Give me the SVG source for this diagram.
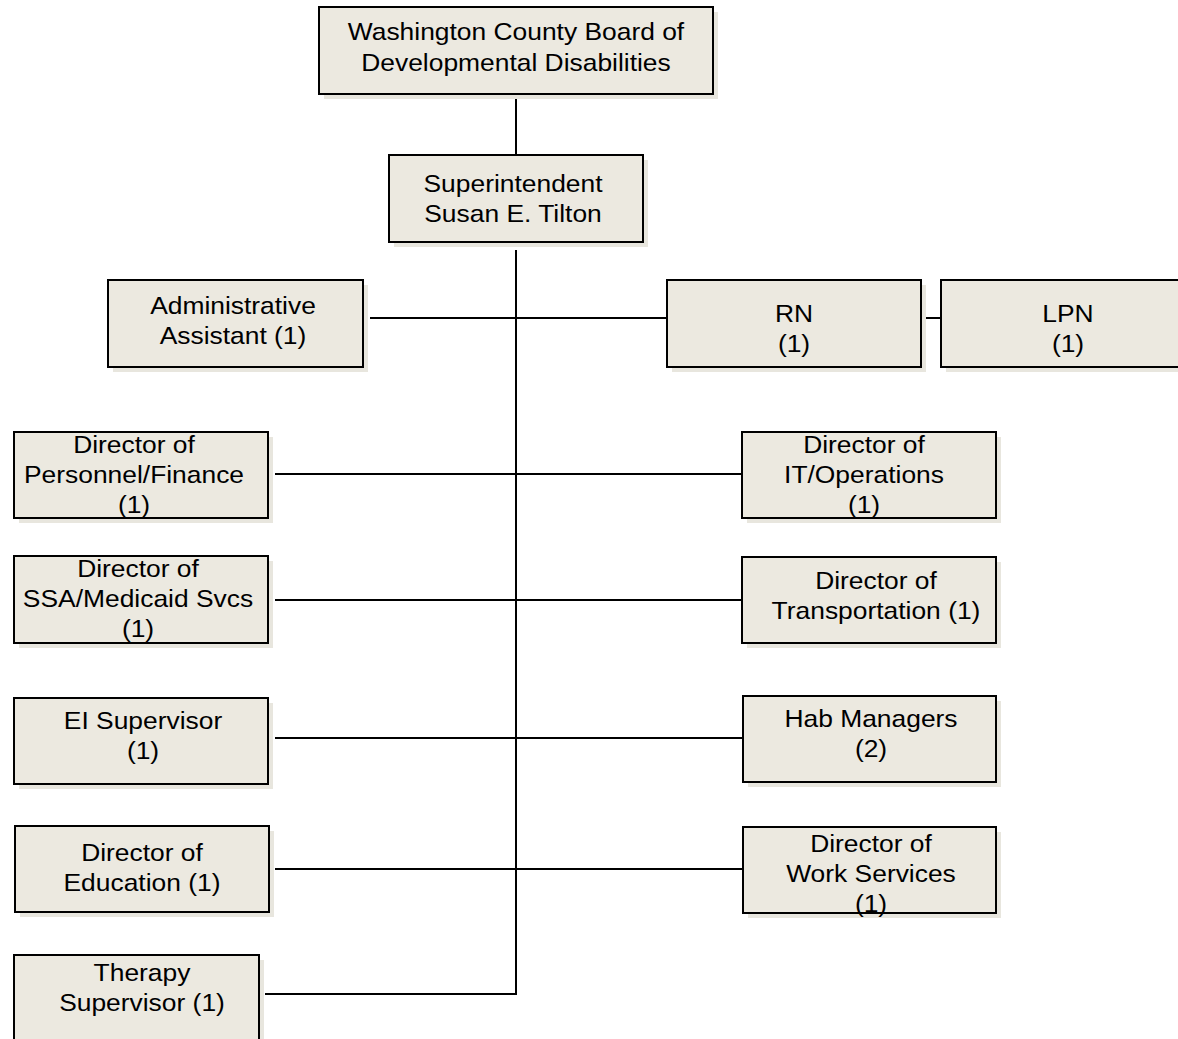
<svg xmlns="http://www.w3.org/2000/svg" width="1178" height="1039" viewBox="0 0 1178 1039">
<style>
.sh{fill:#E8E6DE;stroke:none}
.bx{fill:#ECE9E0;stroke:#000;stroke-width:2}
text{font-family:"Liberation Sans",Arial,sans-serif;font-size:24px;fill:#000;text-anchor:middle}
.c{fill:none;stroke:#000;stroke-width:2}
</style>
<rect width="1178" height="1039" fill="#fff"/>
<g id="connectors">
<line class="c" x1="516" y1="94" x2="516" y2="155"/>
<polyline class="c" points="516,250 516,994 265,994"/>
<line class="c" x1="370" y1="318" x2="667" y2="318"/>
<line class="c" x1="921" y1="318" x2="941" y2="318"/>
<line class="c" x1="275" y1="474" x2="742" y2="474"/>
<line class="c" x1="275" y1="600" x2="742" y2="600"/>
<line class="c" x1="275" y1="738" x2="745" y2="738"/>
<line class="c" x1="275" y1="869" x2="742" y2="869"/>
</g>
<g id="board"><rect class="sh" x="324" y="12" width="394" height="87"/><rect class="bx" x="319" y="7" width="394" height="87"/><text transform="translate(516 40) scale(1.1 1)">Washington County Board of</text><text transform="translate(516 71) scale(1.1 1)">Developmental Disabilities</text></g>
<g id="superintendent"><rect class="sh" x="394" y="160" width="254" height="87"/><rect class="bx" x="389" y="155" width="254" height="87"/><text transform="translate(513 192) scale(1.1 1)">Superintendent</text><text transform="translate(513 222) scale(1.1 1)">Susan E. Tilton</text></g>
<g id="admin"><rect class="sh" x="113" y="285" width="255" height="87"/><rect class="bx" x="108" y="280" width="255" height="87"/><text transform="translate(233 314) scale(1.1 1)">Administrative</text><text transform="translate(233 344) scale(1.1 1)">Assistant (1)</text></g>
<g id="rn"><rect class="sh" x="672" y="285" width="254" height="87"/><rect class="bx" x="667" y="280" width="254" height="87"/><text transform="translate(794 322) scale(1.1 1)">RN</text><text transform="translate(794 352) scale(1.1 1)">(1)</text></g>
<g id="lpn"><rect class="sh" x="946" y="285" width="254" height="87"/><rect class="bx" x="941" y="280" width="254" height="87"/><text transform="translate(1068 322) scale(1.1 1)">LPN</text><text transform="translate(1068 352) scale(1.1 1)">(1)</text></g>
<g id="personnel"><rect class="sh" x="19" y="437" width="254" height="86"/><rect class="bx" x="14" y="432" width="254" height="86"/><text transform="translate(134 453) scale(1.1 1)">Director of</text><text transform="translate(134 483) scale(1.1 1)">Personnel/Finance</text><text transform="translate(134 513) scale(1.1 1)">(1)</text></g>
<g id="it"><rect class="sh" x="747" y="437" width="254" height="86"/><rect class="bx" x="742" y="432" width="254" height="86"/><text transform="translate(864 453) scale(1.1 1)">Director of</text><text transform="translate(864 483) scale(1.1 1)">IT/Operations</text><text transform="translate(864 513) scale(1.1 1)">(1)</text></g>
<g id="ssa"><rect class="sh" x="19" y="561" width="254" height="87"/><rect class="bx" x="14" y="556" width="254" height="87"/><text transform="translate(138 577) scale(1.1 1)">Director of</text><text transform="translate(138 607) scale(1.1 1)">SSA/Medicaid Svcs</text><text transform="translate(138 637) scale(1.1 1)">(1)</text></g>
<g id="transportation"><rect class="sh" x="747" y="562" width="254" height="86"/><rect class="bx" x="742" y="557" width="254" height="86"/><text transform="translate(876 589) scale(1.1 1)">Director of</text><text transform="translate(876 619) scale(1.1 1)">Transportation (1)</text></g>
<g id="ei"><rect class="sh" x="19" y="703" width="254" height="86"/><rect class="bx" x="14" y="698" width="254" height="86"/><text transform="translate(143 729) scale(1.1 1)">EI Supervisor</text><text transform="translate(143 759) scale(1.1 1)">(1)</text></g>
<g id="hab"><rect class="sh" x="748" y="701" width="253" height="86"/><rect class="bx" x="743" y="696" width="253" height="86"/><text transform="translate(871 727) scale(1.1 1)">Hab Managers</text><text transform="translate(871 757) scale(1.1 1)">(2)</text></g>
<g id="education"><rect class="sh" x="20" y="831" width="254" height="86"/><rect class="bx" x="15" y="826" width="254" height="86"/><text transform="translate(142 861) scale(1.1 1)">Director of</text><text transform="translate(142 891) scale(1.1 1)">Education (1)</text></g>
<g id="work"><rect class="sh" x="748" y="832" width="253" height="86"/><rect class="bx" x="743" y="827" width="253" height="86"/><text transform="translate(871 852) scale(1.1 1)">Director of</text><text transform="translate(871 882) scale(1.1 1)">Work Services</text><text transform="translate(871 912) scale(1.1 1)">(1)</text></g>
<g id="therapy"><rect class="sh" x="19" y="960" width="245" height="90"/><rect class="bx" x="14" y="955" width="245" height="90"/><text transform="translate(142 981) scale(1.1 1)">Therapy</text><text transform="translate(142 1011) scale(1.1 1)">Supervisor (1)</text></g>
</svg>
